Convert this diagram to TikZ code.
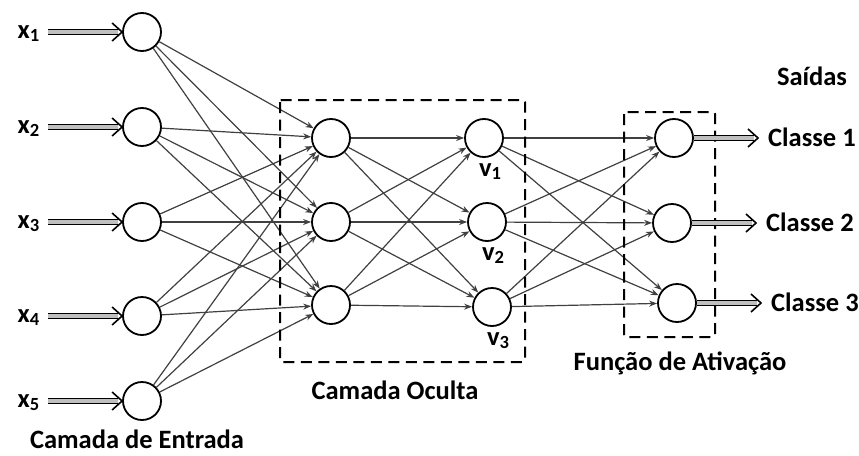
\documentclass[tikz,border=0pt]{standalone}
\usepackage{fontspec}
\setmainfont{Carlito}
\usetikzlibrary{arrows.meta,calc}

\begin{document}
\begin{tikzpicture}[x=1pt,y=-1pt,
  neuron/.style={circle,draw,line width=1.8pt,minimum size=38pt,inner sep=0pt,fill=white},
  syn/.style={draw=black!75,line width=1.2pt,-{Stealth[length=8pt,width=6pt]}},
  sig/.style={line width=1.6pt,double=black!25,double distance=3.6pt,shorten >=3.8pt},
  box/.style={line width=2pt,dash pattern=on 11pt off 6.5pt,rounded corners=2pt},
  txt/.style={font=\bfseries\fontsize{26.5}{30}\selectfont,inner sep=0pt}]
\useasboundingbox (0,0) rectangle (859,455);
\newcommand{\sighead}[1]{\draw[line width=1.6pt] ($(#1)+(-10,-9)$) -- (#1) -- ($(#1)+(-10,9)$);}

% layers
\foreach \y [count=\i] in {32,127,222,316,401}{\node[neuron] (in\i) at (142,\y) {};}
\foreach \y [count=\i] in {138,222,305}{\node[neuron] (hid\i) at (331,\y) {};}
\foreach \x/\y [count=\i] in {484/138,487/222,492/307}{\node[neuron] (v\i) at (\x,\y) {};}
\foreach \x/\y [count=\i] in {674/138,672/223,677/303}{\node[neuron] (out\i) at (\x,\y) {};}

% weights
\foreach \i in {1,...,5}{\foreach \j in {1,2,3}{\draw[syn] (in\i) -- (hid\j);}}
\foreach \i in {1,2,3}{\foreach \j in {1,2,3}{\draw[syn] (hid\i) -- (v\j);}}
\foreach \i in {1,2,3}{\foreach \j in {1,2,3}{\draw[syn] (v\i) -- (out\j);}}

% dashed groups
\draw[box] (280,100) rectangle (525,362);
\draw[box] (624,112) rectangle (715,337);

% inputs x_i
\foreach \y [count=\i] in {32,127,222,316,401}{
  \node[txt,anchor=base east] (lx\i) at (40,\y+6) {x\textsubscript{\i}};
  \draw[sig] (lx\i.east |- in\i) ++(8,0) -- (in\i.west);
  \sighead{in\i.west}
}
% hidden outputs v_i
\foreach \i in {1,2,3}{\node[txt,anchor=base west] (lv\i) at ($(v\i)+(-5,38)$) {v\textsubscript{\i}};}

% classes
\foreach \i in {1,2,3}{
  \node[txt,anchor=base west] (cls\i) at ($(out\i)+(94,8)$) {Classe \i};
  \coordinate (end\i) at ($(out\i.east -| cls\i.west)+(-10,0)$);
  \draw[sig] (out\i.east) -- (end\i);
  \sighead{end\i}
}

\node[txt,anchor=base] (said) at (812,85) {Saídas};
\node[txt,anchor=base] (entr) at (137,448) {Camada de Entrada};
\node[txt,anchor=base] (ocul) at (395,399) {Camada Oculta};
\node[txt,anchor=base] (ativ) at (680,370) {Função de Ativação};
\end{tikzpicture}
\end{document}
